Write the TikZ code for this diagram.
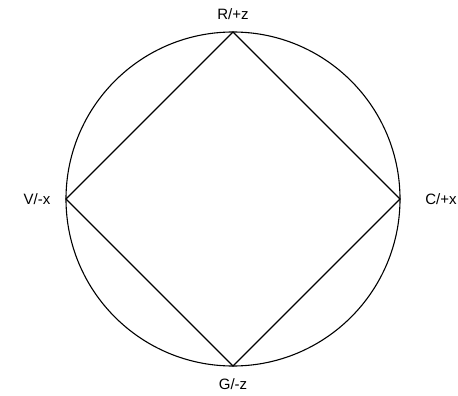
\documentclass[tikz,border=0pt]{standalone}
\usepackage{fontspec}
\setmainfont{Liberation Sans}
\usetikzlibrary{positioning}
\tikzset{
  % outline of the sphere and the inscribed square
  rim/.style   = {draw=black, line width=1.1pt},
  side/.style  = {draw=black, line width=1.1pt},
  pole/.style  = {font=\fontsize{15}{17}\selectfont, inner sep=0pt},
}
\begin{document}
\begin{tikzpicture}[x=1pt,y=-1pt]
\useasboundingbox (0,0) rectangle (458,396);
% corners on the circle
\coordinate (ctr) at (233,199);
\coordinate (top) at (233,32);
\coordinate (bot) at (233,366);
\coordinate (lft) at (66,199);
\coordinate (rgt) at (400,199);
\draw[rim] (ctr) circle (167pt);
\draw[side] (top) -- (rgt) -- (bot) -- (lft) -- cycle;
% labels
\node[pole] (rz) at (233,14) {R/+z};
\node[pole] (gz) at (233,384) {G/-z};
\node[pole] (vx) at (37,199) {V/-x};
\node[pole] (cx) at (441,199) {C/+x};
\end{tikzpicture}
\end{document}
